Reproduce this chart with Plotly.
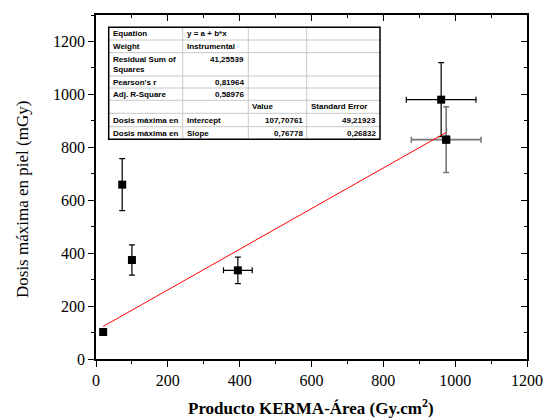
import plotly.graph_objects as go

# ---- data ----
kap = [20, 100, 73, 395, 961, 975]            # Producto KERMA-Área (Gy.cm2)
dose = [102, 374, 659, 335, 980, 829]          # Dosis máxima en piel (mGy)
dose_err = [10, 57, 98, 50, 140, 124]
kap_err = [0, 0, 0, 40, 97, 97]
intercept = 107.70761
slope = 0.76778
fit_x = [20, 975]

x_ticks = [0, 200, 400, 600, 800, 1000, 1200]
y_ticks = [0, 200, 400, 600, 800, 1000, 1200]

table_rows = [
    ["Equation", "y = a + b*x", "", ""],
    ["Weight", "Instrumental", "", ""],
    ["Residual Sum of<br>Squares", "41,25539", "", ""],
    ["Pearson's r", "0,81964", "", ""],
    ["Adj. R-Square", "0,58976", "", ""],
    ["", "", "Value", "Standard Error"],
    ["Dosis máxima en", "Intercept", "107,70761", "49,21923"],
    ["Dosis máxima en", "Slope", "0,76778", "0,26832"],
]

W, H = 544, 418
ML, MR, MT, MB = 96, 17, 15, 59
PW, PH = W - ML - MR, H - MT - MB


def px(x):
    return (x - ML) / PW


def py(y):
    return (H - MB - y) / PH


fig = go.Figure()

black_idx = [0, 1, 2, 3, 4]
fig.add_trace(go.Scatter(
    x=[kap[i] for i in black_idx], y=[dose[i] for i in black_idx],
    mode="markers",
    marker=dict(symbol="square", size=8, color="black"),
    error_y=dict(type="data", array=[dose_err[i] for i in black_idx], color="black", thickness=1.2, width=3),
    error_x=dict(type="data", array=[kap_err[i] for i in black_idx], color="black", thickness=1.2, width=3),
    showlegend=False,
))
fig.add_trace(go.Scatter(
    x=[kap[5]], y=[dose[5]],
    mode="markers",
    marker=dict(symbol="square", size=8, color="black"),
    error_y=dict(type="data", array=[dose_err[5]], color="#777777", thickness=1.6, width=3),
    error_x=dict(type="data", array=[kap_err[5]], color="#777777", thickness=1.6, width=3),
    showlegend=False,
))
fig.add_trace(go.Scatter(x=[kap[5]], y=[dose[5]], mode="markers",
                         marker=dict(symbol="square", size=8, color="black"), showlegend=False))

fig.add_trace(go.Scatter(
    x=fit_x, y=[intercept + slope * v for v in fit_x],
    mode="lines", line=dict(color="red", width=1), showlegend=False,
))

fig.add_trace(go.Scatter(x=[0], y=[0], xaxis="x2", yaxis="y2", mode="markers",
                         marker=dict(opacity=0), showlegend=False, hoverinfo="skip"))

tickfont = dict(family="Liberation Serif", size=16, color="black")
axis_common = dict(showgrid=False, zeroline=False, showline=True, linecolor="black", linewidth=1.5,
                   ticklen=6, tickwidth=1.2, tickcolor="black", automargin=False)

fig.update_layout(
    template="none",
    width=W, height=H, autosize=False,
    margin=dict(l=ML, r=MR, t=MT, b=MB, pad=0),
    paper_bgcolor="white", plot_bgcolor="white",
    showlegend=False,
    xaxis=dict(range=[0, 1200], tickvals=x_ticks, ticktext=[str(v) for v in x_ticks], ticks="outside",
               tickfont=tickfont, minor=dict(dtick=100, ticklen=3, ticks="outside", tickcolor="black", tickwidth=1.2),
               **axis_common),
    yaxis=dict(range=[0, 1300], tickvals=y_ticks, ticktext=[str(v) for v in y_ticks], ticks="outside",
               tickfont=tickfont, minor=dict(dtick=100, ticklen=3, ticks="outside", tickcolor="black", tickwidth=1.2),
               **axis_common),
    xaxis2=dict(range=[0, 1200], overlaying="x", side="top", anchor="y", tickvals=x_ticks, ticks="inside",
                showticklabels=False, minor=dict(dtick=100, ticklen=3, ticks="inside", tickcolor="black", tickwidth=1.2),
                **axis_common),
    yaxis2=dict(range=[0, 1300], overlaying="y", side="right", anchor="x", tickvals=y_ticks, ticks="inside",
                showticklabels=False, minor=dict(dtick=100, ticklen=3, ticks="inside", tickcolor="black", tickwidth=1.2),
                **axis_common),
)

fig.add_annotation(text="<b>Producto KERMA-Área (Gy.cm<sup>2</sup>)</b>", xref="paper", yref="paper",
                   x=px(311), y=py(407), showarrow=False, xanchor="center", yanchor="middle",
                   font=dict(family="Liberation Serif", size=17, color="black"))
fig.add_annotation(text="Dosis máxima en piel (mGy)", xref="paper", yref="paper",
                   x=px(22), y=py(200), showarrow=False, textangle=-90, xanchor="center", yanchor="middle",
                   font=dict(family="Liberation Serif", size=17, color="black"))

cols = [108.7, 182.7, 248.3, 306.7, 380]
rows = [27.3, 40, 52.7, 76, 88, 100.3, 113.3, 126.7, 139.3]
fig.add_shape(type="rect", xref="paper", yref="paper", x0=px(cols[0]), x1=px(cols[-1]),
              y0=py(rows[0]), y1=py(rows[-1]), fillcolor="white", line=dict(color="white", width=0), layer="above")
for c in cols[1:-1]:
    fig.add_shape(type="line", xref="paper", yref="paper", x0=px(c), x1=px(c), y0=py(rows[0]), y1=py(rows[-1]),
                  line=dict(color="#c8c8c8", width=1), layer="above")
for r in rows[1:-1]:
    fig.add_shape(type="line", xref="paper", yref="paper", x0=px(cols[0]), x1=px(cols[-1]), y0=py(r), y1=py(r),
                  line=dict(color="#c8c8c8", width=1), layer="above")
fig.add_shape(type="rect", xref="paper", yref="paper", x0=px(cols[0]), x1=px(cols[-1]),
              y0=py(rows[0]), y1=py(rows[-1]), line=dict(color="black", width=1.5), layer="above")

tfont = dict(family="Liberation Sans", size=8, color="black")
right_aligned = {(2, 1), (3, 1), (4, 1), (6, 2), (6, 3), (7, 2), (7, 3)}
for ri, row in enumerate(table_rows):
    for ci, txt in enumerate(row):
        if not txt:
            continue
        if ri == 2 and ci == 1:
            yc = rows[ri] + 6.5
        else:
            yc = (rows[ri] + rows[ri + 1]) / 2
        if (ri, ci) in right_aligned:
            xpos, anch = cols[ci + 1] - 3, "right"
        else:
            xpos, anch = cols[ci] + 3, "left"
        fig.add_annotation(text="<b>" + txt + "</b>", xref="paper", yref="paper", x=px(xpos), y=py(yc),
                           showarrow=False, xanchor=anch, yanchor="middle", align="left", font=tfont,
                           borderpad=0)

fig.write_html("out.html", config={"responsive": False, "displayModeBar": False},
               post_script="document.body.style.margin='0';document.body.style.overflow='hidden';")
